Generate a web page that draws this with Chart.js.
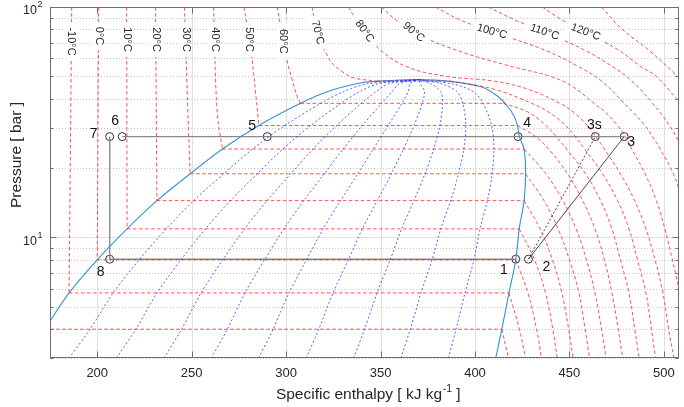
<!DOCTYPE html>
<html>
<head>
<meta charset="utf-8">
<script src="https://cdn.jsdelivr.net/npm/chart.js@4.4.0/dist/chart.umd.min.js"></script>
<style>
  html, body { margin: 0; padding: 0; background: #fff; }
  canvas { display: block; }
</style>
</head>
<body>
<canvas id="ph" width="684" height="407"></canvas>
<script>
// ---- axes ----
const hMin = 175, hMax = 508;
const pMin = 3, pMax = 100;
const hTicks = [200, 250, 300, 350, 400, 450, 500];
const pMajor = [10, 100];
const pMinor = [3, 4, 5, 6, 7, 8, 9, 20, 30, 40, 50, 60, 70, 80, 90];

// ---- saturation table (bar, kJ/kg) ----
const satP  = [3.0, 4.0, 5.75, 8.0, 10.9, 14.45, 18.9, 24.2, 30.6, 38.2, 43.0, 46.5, 48.4];
const satHl = [160, 172, 185.1, 200, 215.8, 231.6, 249.2, 266.3, 285.6, 307.6, 322, 338, 370];
const satHv = [411, 414.2, 418, 421.6, 423.4, 426.0, 426.8, 426.0, 422.5, 415, 407.5, 393, 370];

// saturation dome outline, liquid side up to the critical point, then vapour side down
const domeH = [160, 172, 185.1, 200, 215.8, 231.6, 249.2, 266.3, 285.6, 307.6, 322.5, 340, 357.6, 370,
               385.6, 403.2, 412, 417.2, 420.7, 422.5, 423.5, 426, 426.8, 426, 423.4, 421.6, 418, 414.2, 411];
const domeP = [3, 4, 5.75, 8, 10.9, 14.45, 18.9, 24.2, 30.6, 38.2, 43.1, 46.9, 48.1, 48.4,
               47.7, 45.1, 41, 37.1, 33.6, 30.6, 27.4, 24.2, 18.9, 14.45, 10.9, 8, 5.75, 4, 3];

// vapour quality lines
const qualities = [0.1, 0.2, 0.3, 0.4, 0.5, 0.6, 0.7, 0.8, 0.9];

// ---- isotherms, degC ----
const isoT = [-20, -10, 0, 10, 20, 30, 40, 50, 60, 70, 80, 90, 100, 110, 120, 130];
const isoH = [
  [172.5, 172, 414.2, 417.7],
  [186.5, 185.1, 418, 423.5, 426.8],
  [200.8, 200, 421.6, 428, 432.6, 435.2],
  [215.6, 215.8, 423.4, 431.5, 437.3, 441.2, 443.5],
  [230.9, 231.6, 426, 434.5, 441, 446, 449.6, 451.9],
  [246.2, 248, 249.2, 426.8, 436.5, 444, 450, 455, 458.3, 460.6],
  [261.6, 263.5, 266.3, 426, 437.5, 446.5, 453.5, 459, 463.5, 467, 469.4],
  [277.7, 281.3, 283.9, 285.6, 422.5, 432, 439, 449, 457, 463.5, 468.5, 472.5, 475.8, 478.2],
  [295.3, 300.5, 303.2, 305.8, 307.6, 415, 428, 437.5, 443, 448.5, 458.5, 466.5, 472.5, 477, 481.5, 484.6, 486.9],
  [313.7, 315.6, 317.7, 321, 324.2, 329.5, 335.6, 348, 387, 410, 430, 439, 448, 453, 458, 467.5, 475.5, 481.5, 486, 490.5, 493.4, 495.6],
  [333, 337, 341.8, 350, 364, 385, 410, 428, 445, 452, 459.5, 464, 468.5, 477, 484.5, 490.5, 495.3, 499.5, 502.5, 505.3],
  [350.4, 358, 367.2, 390, 420, 440, 452, 463, 469, 475.5, 479.5, 483, 490, 496, 500.5, 504.5, 508.5],
  [379, 392, 409.3, 437, 455, 467, 479, 490, 494, 498, 505, 510],
  [407, 421, 436.5, 458, 473, 483, 494, 503, 510],
  [435.6, 446, 458.4, 476, 488, 496, 507],
  [467, 478, 492, 505, 512]
];
const isoP = [
  [100, 4.0, 4.0, 3.0],
  [100, 5.75, 5.75, 4, 3],
  [100, 8, 8, 5.75, 4, 3],
  [100, 10.9, 10.9, 8, 5.75, 4, 3],
  [100, 14.45, 14.45, 10.9, 8, 5.75, 4, 3],
  [100, 35, 18.9, 18.9, 14.45, 10.9, 8, 5.75, 4, 3],
  [100, 35, 24.2, 24.2, 18.9, 14.45, 10.9, 8, 5.75, 4, 3],
  [100, 66, 42, 30.6, 30.6, 27.4, 24.2, 18.9, 14.45, 10.9, 8, 5.75, 4, 3],
  [100, 58.5, 48.4, 41, 38.2, 38.2, 35, 30.6, 27.4, 24.2, 18.9, 14.45, 10.9, 8, 5.75, 4, 3],
  [100, 84.4, 72.1, 63.4, 57.2, 52.6, 49.3, 47.7, 47.7, 44, 38.2, 35, 30.6, 27.4, 24.2, 18.9, 14.45, 10.9, 8, 5.75, 4, 3],
  [100, 88, 78, 65, 55, 50, 47.7, 44, 38.2, 35, 30.6, 27.4, 24.2, 18.9, 14.45, 10.9, 8, 5.75, 4, 3],
  [100, 88, 78, 65, 55, 50, 45, 38.2, 35, 30.6, 27.4, 24.2, 18.9, 14.45, 10.9, 8, 5.75],
  [100, 88, 78, 65, 55, 47.7, 38.2, 30.6, 27.4, 24.2, 18.9, 14.45],
  [100, 88, 78, 65, 55, 47.7, 38.2, 30.6, 24.2],
  [100, 88, 78, 65, 55, 50, 39.7],
  [100, 80, 65, 52, 45]
];
// where each temperature tag sits (pressure along the line) and its angle
const tagP   = [null, 70.8, 74.8, 72.2, 72.2, 72.2, 72.2, 72.2, 71, 77.4, 78.5, 77.8, 78.2, 77.8, 77.8, null];
const tagRot = [0, 90, 90, 90, 90, 90, 90, 90, 90, 76, 55, 40, 16, 19, 21, 0];

// ---- refrigeration cycle ----
const cycleName = ['1', '2', '3', '3s', '4', '5', '6', '7', '8'];
const cycleH = [421.6, 428.3, 479.0, 463.7, 422.8, 290.0, 213.2, 206.6, 206.6];
const cycleP = [8.05, 8.05, 27.4, 27.4, 27.4, 27.4, 27.4, 27.4, 8.05];
// label offsets in px from the marker
const nameDx = [-12, 18, 7, -1, 9, -15, -7, -16, -9];
const nameDy = [11, 8, 6, -11, -13, -10, -15, -2, 13];

const pt = (h, p) => ({ x: h, y: p });
const idx = n => cycleName.indexOf(n);
const cyc = n => pt(cycleH[idx(n)], cycleP[idx(n)]);

function hAtP(hs, ps, p) {
  for (let i = 0; i < ps.length - 1; i++) {
    const a = ps[i], b = ps[i + 1];
    if (a !== b && (p - a) * (p - b) <= 0) {
      const t = (Math.log(p) - Math.log(a)) / (Math.log(b) - Math.log(a));
      return hs[i] + t * (hs[i + 1] - hs[i]);
    }
  }
  return null;
}

const FONT = "'Liberation Sans', Arial, Helvetica, sans-serif";
const datasets = [];

// quality lines split every saturation tie line
qualities.forEach(q => {
  datasets.push({
    data: satP.map((p, i) => pt(satHl[i] + q * (satHv[i] - satHl[i]), p)),
    borderColor: 'rgba(40,40,255,0.75)', borderWidth: 1, borderDash: [2, 2.2],
    pointRadius: 0, tension: 0.3
  });
});

// isotherms: liquid branch and superheated branch are smoothed, the tie line is straight
const isoStyle = { borderColor: 'rgba(255,25,25,0.8)', borderWidth: 0.95, borderDash: [3.5, 2.5], pointRadius: 0 };
isoT.forEach((t, i) => {
  const pts = isoH[i].map((h, k) => pt(h, isoP[i][k]));
  const j = isoP[i].findIndex((p, k) => k > 0 && p === isoP[i][k - 1]);
  if (j > 0) {
    datasets.push({ ...isoStyle, data: pts.slice(0, j), tension: 0.4 });
    datasets.push({ ...isoStyle, data: pts.slice(j - 1, j + 1), tension: 0 });
    datasets.push({ ...isoStyle, data: pts.slice(j), tension: 0.4 });
  } else {
    datasets.push({ ...isoStyle, data: pts, tension: 0.4 });
  }
});

datasets.push({
  data: domeH.map((h, k) => pt(h, domeP[k])),
  borderColor: '#3293d6', borderWidth: 1.1, pointRadius: 0, tension: 0.3
});

// cycle path
const grey = { borderColor: '#8a8a8a', borderWidth: 1.4, pointRadius: 0 };
datasets.push({ ...grey, data: [cyc('6'), cyc('3')] });
datasets.push({ ...grey, data: [cyc('7'), cyc('8')] });
datasets.push({ ...grey, data: [cyc('8'), cyc('1')] });
datasets.push({ data: [cyc('2'), cyc('3')], borderColor: '#333', borderWidth: 0.9, pointRadius: 0 });
datasets.push({ data: [cyc('2'), cyc('3s')], borderColor: '#333', borderWidth: 0.9, borderDash: [2, 2], pointRadius: 0 });
datasets.push({
  data: cycleH.map((h, k) => pt(h, cycleP[k])),
  showLine: false, pointRadius: 4, pointBorderWidth: 1,
  pointBorderColor: '#333', pointBackgroundColor: 'rgba(0,0,0,0)'
});
const markerSet = datasets.length - 1;

const frame = {
  id: 'frame',
  beforeDatasetsDraw(chart) {
    const { ctx, chartArea: a, scales: { x, y } } = chart;
    ctx.save();
    ctx.lineWidth = 1;
    ctx.strokeStyle = 'rgba(0,0,0,0.12)';
    hTicks.forEach(v => {
      const px = Math.round(x.getPixelForValue(v)) + 0.5;
      ctx.beginPath(); ctx.moveTo(px, a.top); ctx.lineTo(px, a.bottom); ctx.stroke();
    });
    pMajor.forEach(v => {
      const py = Math.round(y.getPixelForValue(v)) + 0.5;
      ctx.beginPath(); ctx.moveTo(a.left, py); ctx.lineTo(a.right, py); ctx.stroke();
    });
    ctx.strokeStyle = 'rgba(0,0,0,0.22)';
    ctx.setLineDash([1, 2]);
    pMinor.forEach(v => {
      const py = Math.round(y.getPixelForValue(v)) + 0.5;
      ctx.beginPath(); ctx.moveTo(a.left, py); ctx.lineTo(a.right, py); ctx.stroke();
    });
    ctx.restore();
  },
  afterDatasetsDraw(chart) {
    const { ctx, chartArea: a, scales: { x, y } } = chart;
    ctx.save();

    // isotherm tags
    ctx.font = `11px ${FONT}`;
    ctx.textAlign = 'center';
    ctx.textBaseline = 'middle';
    isoT.forEach((t, i) => {
      if (tagP[i] == null) return;
      const h = hAtP(isoH[i], isoP[i], tagP[i]);
      if (h == null) return;
      const txt = t + '°C';
      const w = ctx.measureText(txt).width;
      ctx.save();
      ctx.translate(x.getPixelForValue(h), y.getPixelForValue(tagP[i]));
      ctx.rotate(tagRot[i] * Math.PI / 180);
      ctx.fillStyle = '#fff';
      ctx.fillRect(-w / 2 - 5, -6, w + 10, 12);
      ctx.fillStyle = '#262626';
      ctx.fillText(txt, 0, 0);
      ctx.restore();
    });

    // state point names
    ctx.font = `14px ${FONT}`;
    ctx.fillStyle = '#111';
    chart.getDatasetMeta(markerSet).data.forEach((el, k) => {
      ctx.fillText(cycleName[k], el.x + nameDx[k], el.y + nameDy[k]);
    });

    // box and inward ticks
    ctx.strokeStyle = '#6e6e6e';
    ctx.lineWidth = 1;
    const L = Math.round(a.left) + 0.5, R = Math.round(a.right) - 0.5;
    const T = Math.round(a.top) + 0.5, B = Math.round(a.bottom) - 0.5;
    ctx.strokeRect(L, T, R - L, B - T);
    ctx.beginPath();
    hTicks.forEach(v => {
      const px = Math.round(x.getPixelForValue(v)) + 0.5;
      ctx.moveTo(px, B); ctx.lineTo(px, B - 6);
      ctx.moveTo(px, T); ctx.lineTo(px, T + 6);
    });
    pMajor.forEach(v => {
      const py = Math.round(y.getPixelForValue(v)) + 0.5;
      ctx.moveTo(L, py); ctx.lineTo(L + 6, py);
      ctx.moveTo(R, py); ctx.lineTo(R - 6, py);
    });
    pMinor.forEach(v => {
      const py = Math.round(y.getPixelForValue(v)) + 0.5;
      ctx.moveTo(L, py); ctx.lineTo(L + 3, py);
      ctx.moveTo(R, py); ctx.lineTo(R - 3, py);
    });
    ctx.stroke();

    // log tick labels
    ctx.fillStyle = '#262626';
    pMajor.forEach(v => {
      const py = y.getPixelForValue(v);
      ctx.font = `12.5px ${FONT}`;
      ctx.textAlign = 'right';
      ctx.textBaseline = 'middle';
      ctx.fillText('10', 37, py + 4);
      ctx.font = `9px ${FONT}`;
      ctx.textAlign = 'left';
      ctx.fillText(String(Math.round(Math.log10(v))), 37.5, py - 2);
    });

    // axis titles
    ctx.font = `15.5px ${FONT}`;
    ctx.textAlign = 'center';
    ctx.textBaseline = 'middle';
    ctx.save();
    ctx.translate(17, 155);
    ctx.rotate(-Math.PI / 2);
    ctx.fillText('Pressure [ bar ]', 0, 0);
    ctx.restore();

    const main = 'Specific enthalpy [ kJ kg';
    const sup = '-1';
    const tail = ' ]';
    ctx.font = `15.5px ${FONT}`;
    const w1 = ctx.measureText(main).width, w3 = ctx.measureText(tail).width;
    ctx.font = `10.5px ${FONT}`;
    const w2 = ctx.measureText(sup).width;
    const sx = 368 - (w1 + w2 + w3) / 2;
    ctx.textAlign = 'left';
    ctx.textBaseline = 'alphabetic';
    ctx.font = `15.5px ${FONT}`;
    ctx.fillText(main, sx, 399);
    ctx.font = `10.5px ${FONT}`;
    ctx.fillText(sup, sx + w1 + 0.5, 392);
    ctx.font = `15.5px ${FONT}`;
    ctx.fillText(tail, sx + w1 + w2 + 0.5, 399);
    ctx.restore();
  }
};

new Chart(document.getElementById('ph').getContext('2d'), {
  type: 'line',
  data: { datasets },
  options: {
    responsive: false,
    animation: false,
    devicePixelRatio: 1,
    parsing: false,
    normalized: true,
    elements: { line: { capBezierPoints: false } },
    layout: { padding: { top: 7, right: 1, left: 0, bottom: 0 } },
    plugins: { legend: { display: false }, tooltip: { enabled: false } },
    scales: {
      x: {
        type: 'linear', min: hMin, max: hMax,
        grid: { display: false, drawTicks: false },
        border: { display: false },
        afterBuildTicks: s => { s.ticks = hTicks.map(v => ({ value: v })); },
        afterFit: s => { s.height = 49; },
        ticks: { color: '#262626', font: { family: FONT, size: 13 }, padding: 8, maxRotation: 0, autoSkip: false }
      },
      y: {
        type: 'logarithmic', min: pMin, max: pMax,
        grid: { display: false, drawTicks: false },
        border: { display: false },
        ticks: { display: false },
        afterFit: s => { s.width = 50; }
      }
    }
  },
  plugins: [frame]
});
</script>
</body>
</html>
